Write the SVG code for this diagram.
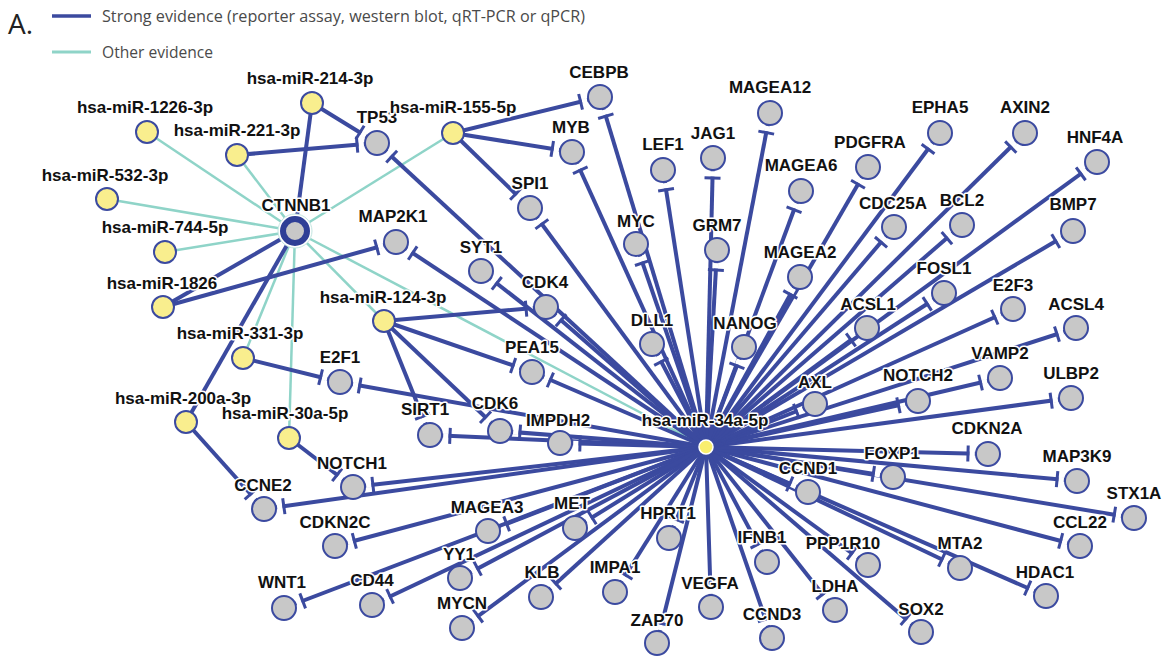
<svg xmlns="http://www.w3.org/2000/svg" width="1165" height="658" viewBox="0 0 1165 658">
<style>
.s{stroke:#3b4a9f;stroke-width:4;fill:none}
.o{stroke:#8fd4c8;stroke-width:2.5;fill:none}
.g{fill:#c8c8c8;stroke:#3b4aa0;stroke-width:2}
.y{fill:#f9ee8e;stroke:#3b4aa0;stroke-width:2}
text{font-family:"Liberation Sans",Arial,sans-serif;font-weight:bold;font-size:17px;text-anchor:middle;fill:#111;stroke:#fff;stroke-width:3;paint-order:stroke;stroke-linejoin:round}
text.lg{font-family:"Open Sans","DejaVu Sans",sans-serif;font-weight:normal;font-size:16px;text-anchor:start;fill:#4a4a4a;stroke:none}
</style>
<defs>
<marker id="t" markerUnits="userSpaceOnUse" viewBox="-30 -10 30 20" markerWidth="30" markerHeight="20" refX="0" refY="0" orient="auto" overflow="visible">
<rect x="-18.6" y="-2.6" width="5.4" height="5.2" fill="#fff"/>
<line x1="-20" y1="-8" x2="-20" y2="8" stroke="#3b4a9f" stroke-width="3"/>
</marker>
</defs>
<rect width="1165" height="658" fill="#fff"/>
<g id="legend">
<text class="lg" x="8" y="34" style="font-size:28px;fill:#222">A.</text>
<line x1="52" y1="16" x2="91" y2="16" stroke="#3b4a9f" stroke-width="3.5"/>
<text class="lg" x="102" y="22" textLength="483" lengthAdjust="spacingAndGlyphs">Strong evidence (reporter assay, western blot, qRT-PCR or qPCR)</text>
<line x1="52" y1="52" x2="91" y2="52" stroke="#8fd4c8" stroke-width="3"/>
<text class="lg" x="102" y="58" textLength="111" lengthAdjust="spacingAndGlyphs">Other evidence</text>
</g>
<g id="connectors">
<g id="other">
<line class="o" x1="147" y1="132" x2="295" y2="231"/>
<line class="o" x1="237" y1="155" x2="295" y2="231"/>
<line class="o" x1="107" y1="199" x2="295" y2="231"/>
<line class="o" x1="165" y1="252" x2="295" y2="231"/>
<line class="o" x1="243" y1="358" x2="295" y2="231"/>
<line class="o" x1="289" y1="438" x2="295" y2="231"/>
<line class="o" x1="384" y1="321" x2="295" y2="231"/>
<line class="o" x1="453" y1="133" x2="295" y2="231"/>
<line class="o" x1="706" y1="447" x2="295" y2="231"/>
</g>
<g id="strong">
<line class="s" x1="312" y1="103" x2="295" y2="231"/>
<line class="s" x1="163" y1="307" x2="295" y2="231"/>
<line class="s" x1="186" y1="422" x2="295" y2="231"/>
<g marker-end="url(#t)">
<line class="s" x1="312" y1="103" x2="377" y2="143"/>
<line class="s" x1="237" y1="155" x2="377" y2="143"/>
<line class="s" x1="453" y1="133" x2="600" y2="97"/>
<line class="s" x1="453" y1="133" x2="572" y2="152"/>
<line class="s" x1="453" y1="133" x2="530" y2="208"/>
<line class="s" x1="163" y1="307" x2="396" y2="242"/>
<line class="s" x1="384" y1="321" x2="546" y2="307"/>
<line class="s" x1="384" y1="321" x2="532" y2="372"/>
<line class="s" x1="384" y1="321" x2="430" y2="435"/>
<line class="s" x1="384" y1="321" x2="500" y2="431"/>
<line class="s" x1="243" y1="358" x2="340" y2="382"/>
<line class="s" x1="289" y1="438" x2="353" y2="487"/>
<line class="s" x1="186" y1="422" x2="264" y2="509"/>
<line class="s" x1="706" y1="447" x2="600" y2="97"/>
<line class="s" x1="706" y1="447" x2="572" y2="152"/>
<line class="s" x1="706" y1="447" x2="377" y2="143"/>
<line class="s" x1="706" y1="447" x2="530" y2="208"/>
<line class="s" x1="706" y1="447" x2="396" y2="242"/>
<line class="s" x1="706" y1="447" x2="481" y2="271"/>
<line class="s" x1="706" y1="447" x2="546" y2="307"/>
<line class="s" x1="706" y1="447" x2="532" y2="372"/>
<line class="s" x1="706" y1="447" x2="340" y2="382"/>
<line class="s" x1="706" y1="447" x2="430" y2="435"/>
<line class="s" x1="706" y1="447" x2="500" y2="431"/>
<line class="s" x1="706" y1="447" x2="560" y2="443"/>
<line class="s" x1="706" y1="447" x2="353" y2="487"/>
<line class="s" x1="706" y1="447" x2="264" y2="509"/>
<line class="s" x1="706" y1="447" x2="335" y2="546"/>
<line class="s" x1="706" y1="447" x2="488" y2="531"/>
<line class="s" x1="706" y1="447" x2="575" y2="528"/>
<line class="s" x1="706" y1="447" x2="284" y2="608"/>
<line class="s" x1="706" y1="447" x2="372" y2="605"/>
<line class="s" x1="706" y1="447" x2="460" y2="578"/>
<line class="s" x1="706" y1="447" x2="462" y2="628"/>
<line class="s" x1="706" y1="447" x2="541" y2="597"/>
<line class="s" x1="706" y1="447" x2="615" y2="592"/>
<line class="s" x1="706" y1="447" x2="669" y2="538"/>
<line class="s" x1="706" y1="447" x2="657" y2="643"/>
<line class="s" x1="706" y1="447" x2="711" y2="607"/>
<line class="s" x1="706" y1="447" x2="772" y2="638"/>
<line class="s" x1="706" y1="447" x2="767" y2="562"/>
<line class="s" x1="706" y1="447" x2="835" y2="610"/>
<line class="s" x1="706" y1="447" x2="868" y2="565"/>
<line class="s" x1="706" y1="447" x2="921" y2="632"/>
<line class="s" x1="706" y1="447" x2="960" y2="568"/>
<line class="s" x1="706" y1="447" x2="1046" y2="596"/>
<line class="s" x1="706" y1="447" x2="1080" y2="546"/>
<line class="s" x1="706" y1="447" x2="1134" y2="518"/>
<line class="s" x1="706" y1="447" x2="1077" y2="481"/>
<line class="s" x1="706" y1="447" x2="808" y2="492"/>
<line class="s" x1="706" y1="447" x2="893" y2="477"/>
<line class="s" x1="706" y1="447" x2="988" y2="454"/>
<line class="s" x1="706" y1="447" x2="1071" y2="398"/>
<line class="s" x1="706" y1="447" x2="918" y2="401"/>
<line class="s" x1="706" y1="447" x2="1000" y2="378"/>
<line class="s" x1="706" y1="447" x2="1076" y2="328"/>
<line class="s" x1="706" y1="447" x2="815" y2="404"/>
<line class="s" x1="706" y1="447" x2="1013" y2="309"/>
<line class="s" x1="706" y1="447" x2="867" y2="328"/>
<line class="s" x1="706" y1="447" x2="944" y2="293"/>
<line class="s" x1="706" y1="447" x2="1073" y2="231"/>
<line class="s" x1="706" y1="447" x2="962" y2="225"/>
<line class="s" x1="706" y1="447" x2="894" y2="227"/>
<line class="s" x1="706" y1="447" x2="1097" y2="162"/>
<line class="s" x1="706" y1="447" x2="1025" y2="133"/>
<line class="s" x1="706" y1="447" x2="940" y2="133"/>
<line class="s" x1="706" y1="447" x2="868" y2="167"/>
<line class="s" x1="706" y1="447" x2="800" y2="277"/>
<line class="s" x1="706" y1="447" x2="801" y2="191"/>
<line class="s" x1="706" y1="447" x2="770" y2="113"/>
<line class="s" x1="706" y1="447" x2="744" y2="347"/>
<line class="s" x1="706" y1="447" x2="713" y2="158"/>
<line class="s" x1="706" y1="447" x2="717" y2="250"/>
<line class="s" x1="706" y1="447" x2="663" y2="170"/>
<line class="s" x1="706" y1="447" x2="652" y2="344"/>
<line class="s" x1="706" y1="447" x2="636" y2="244"/>
</g>
</g>
</g>
<g id="nodes">
<g id="n-CEBPB"><circle class="g" cx="600" cy="97" r="12"/><text x="599" y="78">CEBPB</text></g>
<g id="n-MYB"><circle class="g" cx="572" cy="152" r="12"/><text x="571" y="133">MYB</text></g>
<g id="n-TP53"><circle class="g" cx="377" cy="143" r="12"/><text x="377" y="123">TP53</text></g>
<g id="n-SPI1"><circle class="g" cx="530" cy="208" r="12"/><text x="530" y="189">SPI1</text></g>
<g id="n-MAP2K1"><circle class="g" cx="396" cy="242" r="12"/><text x="393" y="222">MAP2K1</text></g>
<g id="n-SYT1"><circle class="g" cx="481" cy="271" r="12"/><text x="481" y="253">SYT1</text></g>
<g id="n-CDK4"><circle class="g" cx="546" cy="307" r="12"/><text x="545" y="288">CDK4</text></g>
<g id="n-PEA15"><circle class="g" cx="532" cy="372" r="12"/><text x="532" y="353">PEA15</text></g>
<g id="n-E2F1"><circle class="g" cx="340" cy="382" r="12"/><text x="340" y="363">E2F1</text></g>
<g id="n-SIRT1"><circle class="g" cx="430" cy="435" r="12"/><text x="425" y="415">SIRT1</text></g>
<g id="n-CDK6"><circle class="g" cx="500" cy="431" r="12"/><text x="495" y="409">CDK6</text></g>
<g id="n-IMPDH2"><circle class="g" cx="560" cy="443" r="12"/><text x="558" y="426">IMPDH2</text></g>
<g id="n-NOTCH1"><circle class="g" cx="353" cy="487" r="12"/><text x="352" y="469">NOTCH1</text></g>
<g id="n-CCNE2"><circle class="g" cx="264" cy="509" r="12"/><text x="263" y="491">CCNE2</text></g>
<g id="n-CDKN2C"><circle class="g" cx="335" cy="546" r="12"/><text x="335" y="528">CDKN2C</text></g>
<g id="n-MAGEA3"><circle class="g" cx="488" cy="531" r="12"/><text x="487" y="513">MAGEA3</text></g>
<g id="n-MET"><circle class="g" cx="575" cy="528" r="12"/><text x="572" y="509">MET</text></g>
<g id="n-WNT1"><circle class="g" cx="284" cy="608" r="12"/><text x="282" y="588">WNT1</text></g>
<g id="n-CD44"><circle class="g" cx="372" cy="605" r="12"/><text x="372" y="586">CD44</text></g>
<g id="n-YY1"><circle class="g" cx="460" cy="578" r="12"/><text x="459" y="560">YY1</text></g>
<g id="n-MYCN"><circle class="g" cx="462" cy="628" r="12"/><text x="462" y="609">MYCN</text></g>
<g id="n-KLB"><circle class="g" cx="541" cy="597" r="12"/><text x="542" y="578">KLB</text></g>
<g id="n-IMPA1"><circle class="g" cx="615" cy="592" r="12"/><text x="615" y="573">IMPA1</text></g>
<g id="n-HPRT1"><circle class="g" cx="669" cy="538" r="12"/><text x="668" y="519">HPRT1</text></g>
<g id="n-ZAP70"><circle class="g" cx="657" cy="643" r="12"/><text x="657" y="626">ZAP70</text></g>
<g id="n-VEGFA"><circle class="g" cx="711" cy="607" r="12"/><text x="710" y="589">VEGFA</text></g>
<g id="n-CCND3"><circle class="g" cx="772" cy="638" r="12"/><text x="772" y="620">CCND3</text></g>
<g id="n-IFNB1"><circle class="g" cx="767" cy="562" r="12"/><text x="762" y="543">IFNB1</text></g>
<g id="n-LDHA"><circle class="g" cx="835" cy="610" r="12"/><text x="835" y="592">LDHA</text></g>
<g id="n-PPP1R10"><circle class="g" cx="868" cy="565" r="12"/><text x="843" y="549">PPP1R10</text></g>
<g id="n-CCND1"><circle class="g" cx="808" cy="492" r="12"/><text x="808" y="474">CCND1</text></g>
<g id="n-FOXP1"><circle class="g" cx="893" cy="477" r="12"/><text x="892" y="459">FOXP1</text></g>
<g id="n-CDKN2A"><circle class="g" cx="988" cy="454" r="12"/><text x="987" y="434">CDKN2A</text></g>
<g id="n-MAP3K9"><circle class="g" cx="1077" cy="481" r="12"/><text x="1077" y="462">MAP3K9</text></g>
<g id="n-STX1A"><circle class="g" cx="1134" cy="518" r="12"/><text x="1134" y="499">STX1A</text></g>
<g id="n-CCL22"><circle class="g" cx="1080" cy="546" r="12"/><text x="1080" y="528">CCL22</text></g>
<g id="n-MTA2"><circle class="g" cx="960" cy="568" r="12"/><text x="960" y="549">MTA2</text></g>
<g id="n-HDAC1"><circle class="g" cx="1046" cy="596" r="12"/><text x="1045" y="578">HDAC1</text></g>
<g id="n-SOX2"><circle class="g" cx="921" cy="632" r="12"/><text x="921" y="615">SOX2</text></g>
<g id="n-ULBP2"><circle class="g" cx="1071" cy="398" r="12"/><text x="1071" y="379">ULBP2</text></g>
<g id="n-NOTCH2"><circle class="g" cx="918" cy="401" r="12"/><text x="918" y="381">NOTCH2</text></g>
<g id="n-VAMP2"><circle class="g" cx="1000" cy="378" r="12"/><text x="1000" y="359">VAMP2</text></g>
<g id="n-ACSL4"><circle class="g" cx="1076" cy="328" r="12"/><text x="1076" y="310">ACSL4</text></g>
<g id="n-E2F3"><circle class="g" cx="1013" cy="309" r="12"/><text x="1013" y="291">E2F3</text></g>
<g id="n-FOSL1"><circle class="g" cx="944" cy="293" r="12"/><text x="944" y="274">FOSL1</text></g>
<g id="n-ACSL1"><circle class="g" cx="867" cy="328" r="12"/><text x="868" y="310">ACSL1</text></g>
<g id="n-AXL"><circle class="g" cx="815" cy="404" r="12"/><text x="815" y="388">AXL</text></g>
<g id="n-BMP7"><circle class="g" cx="1073" cy="231" r="12"/><text x="1073" y="210">BMP7</text></g>
<g id="n-BCL2"><circle class="g" cx="962" cy="225" r="12"/><text x="962" y="206">BCL2</text></g>
<g id="n-CDC25A"><circle class="g" cx="894" cy="227" r="12"/><text x="893" y="209">CDC25A</text></g>
<g id="n-HNF4A"><circle class="g" cx="1097" cy="162" r="12"/><text x="1095" y="143">HNF4A</text></g>
<g id="n-AXIN2"><circle class="g" cx="1025" cy="133" r="12"/><text x="1025" y="113">AXIN2</text></g>
<g id="n-EPHA5"><circle class="g" cx="940" cy="133" r="12"/><text x="940" y="113">EPHA5</text></g>
<g id="n-PDGFRA"><circle class="g" cx="868" cy="167" r="12"/><text x="870" y="148">PDGFRA</text></g>
<g id="n-MAGEA2"><circle class="g" cx="800" cy="277" r="12"/><text x="800" y="258">MAGEA2</text></g>
<g id="n-MAGEA6"><circle class="g" cx="801" cy="191" r="12"/><text x="801" y="171">MAGEA6</text></g>
<g id="n-MAGEA12"><circle class="g" cx="770" cy="113" r="12"/><text x="770" y="93">MAGEA12</text></g>
<g id="n-NANOG"><circle class="g" cx="744" cy="347" r="12"/><text x="745" y="329">NANOG</text></g>
<g id="n-JAG1"><circle class="g" cx="713" cy="158" r="12"/><text x="713" y="139">JAG1</text></g>
<g id="n-GRM7"><circle class="g" cx="717" cy="250" r="12"/><text x="717" y="231">GRM7</text></g>
<g id="n-LEF1"><circle class="g" cx="663" cy="170" r="12"/><text x="663" y="150">LEF1</text></g>
<g id="n-DLL1"><circle class="g" cx="652" cy="344" r="12"/><text x="652" y="326">DLL1</text></g>
<g id="n-MYC"><circle class="g" cx="636" cy="244" r="12"/><text x="636" y="227">MYC</text></g>
<g id="n-CTNNB1"><circle cx="295" cy="231" r="17" fill="#fff" stroke="#c4e6e1" stroke-width="1"/><circle cx="295" cy="231" r="12" fill="#c8c8c8" stroke="#2f3f96" stroke-width="6"/><text x="296" y="211">CTNNB1</text></g>
<g id="n-miR-214-3p"><circle class="y" cx="312" cy="103" r="11"/><text x="310" y="84">hsa-miR-214-3p</text></g>
<g id="n-miR-221-3p"><circle class="y" cx="237" cy="155" r="11"/><text x="237" y="136">hsa-miR-221-3p</text></g>
<g id="n-miR-1226-3p"><circle class="y" cx="147" cy="132" r="11"/><text x="145" y="113">hsa-miR-1226-3p</text></g>
<g id="n-miR-532-3p"><circle class="y" cx="107" cy="199" r="11"/><text x="105" y="181">hsa-miR-532-3p</text></g>
<g id="n-miR-744-5p"><circle class="y" cx="165" cy="252" r="11"/><text x="165" y="233">hsa-miR-744-5p</text></g>
<g id="n-miR-1826"><circle class="y" cx="163" cy="307" r="11"/><text x="162" y="289">hsa-miR-1826</text></g>
<g id="n-miR-331-3p"><circle class="y" cx="243" cy="358" r="11"/><text x="240" y="339">hsa-miR-331-3p</text></g>
<g id="n-miR-200a-3p"><circle class="y" cx="186" cy="422" r="11"/><text x="183" y="404">hsa-miR-200a-3p</text></g>
<g id="n-miR-30a-5p"><circle class="y" cx="289" cy="438" r="11"/><text x="285" y="419">hsa-miR-30a-5p</text></g>
<g id="n-miR-124-3p"><circle class="y" cx="384" cy="321" r="11"/><text x="383" y="303">hsa-miR-124-3p</text></g>
<g id="n-miR-155-5p"><circle class="y" cx="453" cy="133" r="11"/><text x="453" y="113">hsa-miR-155-5p</text></g>
<g id="n-miR-34a-5p"><circle cx="706" cy="447" r="7" fill="#f9ee6e" stroke="#fff" stroke-width="1.5"/><text x="705" y="426">hsa-miR-34a-5p</text></g>
</g>
</svg>
